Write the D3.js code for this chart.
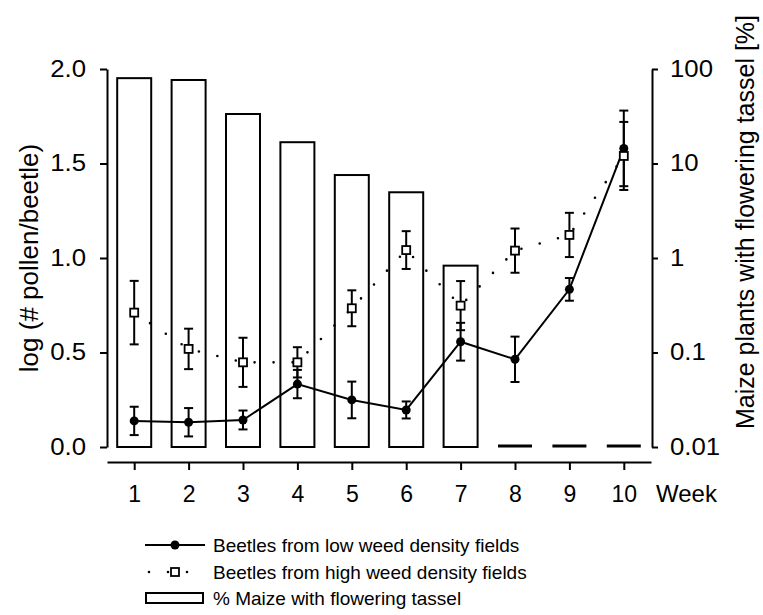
<!DOCTYPE html>
<html>
<head>
<meta charset="utf-8">
<script src="https://cdn.jsdelivr.net/npm/d3@7"></script>
<style>
  body { margin: 0; background: #fff; }
  svg text { font-family: "Liberation Sans", Arial, sans-serif; fill: #000; }
  .axis path, .axis line { stroke: #000; stroke-width: 2; }
</style>
</head>
<body>
<svg id="chart" width="763" height="615"></svg>
<script>
// values
const weeks = [1, 2, 3, 4, 5, 6, 7, 8, 9, 10];
const lowMean = [0.138, 0.131, 0.143, 0.333, 0.249, 0.196, 0.557, 0.464, 0.834, 1.58];
const lowErr = [0.075, 0.075, 0.05, 0.075, 0.097, 0.045, 0.1, 0.12, 0.06, 0.2];
const highMean = [0.711, 0.519, 0.448, 0.448, 0.734, 1.042, 0.748, 1.039, 1.122, 1.54];
const highErr = [0.168, 0.107, 0.13, 0.08, 0.095, 0.1, 0.13, 0.117, 0.117, 0.18];
const maizePct = [80, 76.5, 33.4, 16.8, 7.55, 4.96, 0.83, 0, 0, 0];
const leftTicks = [0, 0.5, 1, 1.5, 2];
const rightTicks = [0.01, 0.1, 1, 10, 100];
const legendLabels = [
  "Beetles from low weed density fields",
  "Beetles from high weed density fields",
  "% Maize with flowering tassel"
];

const svg = d3.select("#chart");

const x = d3.scaleLinear().domain([0.5, 10.5]).range([107, 651]);
const y = d3.scaleLinear().domain([0, 2]).range([447, 69]);
const yR = d3.scaleLog().domain([0.01, 100]).range([447, 69]);

const low = weeks.map((w, i) => ({ w, m: lowMean[i], e: lowErr[i] }));
const high = weeks.map((w, i) => ({ w, m: highMean[i], e: highErr[i] }));
const bars = weeks.map((w, i) => ({ w, v: maizePct[i] }));

const barW = 34;

// the y tick labels in the original are a little wide, stretch them
function stretch(sel, k) {
  sel.each(function () {
    const len = this.getComputedTextLength();
    d3.select(this).attr("textLength", len * k).attr("lengthAdjust", "spacingAndGlyphs");
  });
}

// bars (right axis)
svg.append("g").selectAll("rect")
  .data(bars.filter(d => d.v > 0))
  .join("rect")
  .attr("x", d => x(d.w) - barW / 2)
  .attr("y", d => yR(d.v))
  .attr("width", barW)
  .attr("height", d => yR(0.01) - yR(d.v))
  .attr("fill", "none")
  .attr("stroke", "#000")
  .attr("stroke-width", 2);

// zero weeks drawn as a dash on the baseline
svg.append("g").selectAll("line")
  .data(bars.filter(d => d.v === 0))
  .join("line")
  .attr("x1", d => x(d.w) - barW / 2)
  .attr("x2", d => x(d.w) + barW / 2)
  .attr("y1", yR(0.01) - 1)
  .attr("y2", yR(0.01) - 1)
  .attr("stroke", "#000")
  .attr("stroke-width", 3);

// axes
svg.append("g").attr("class", "axis")
  .attr("transform", "translate(107,0)")
  .call(d3.axisLeft(y).tickValues(leftTicks).tickFormat(d3.format(".1f"))
    .tickSize(7).tickSizeOuter(0).tickPadding(14))
  .call(g => g.selectAll("text").attr("font-size", 23).call(stretch, 1.12));

svg.append("g").attr("class", "axis")
  .attr("transform", "translate(652,0)")
  .call(d3.axisRight(yR).tickValues(rightTicks).tickFormat(d => String(d))
    .tickSize(6).tickSizeOuter(0).tickPadding(12))
  .call(g => g.selectAll("text").attr("font-size", 23).call(stretch, 1.12));

svg.append("g").attr("class", "axis")
  .attr("transform", "translate(0,462)")
  .call(d3.axisBottom(x).tickValues(weeks).tickFormat(d3.format("d"))
    .tickSize(8).tickSizeOuter(0).tickPadding(16))
  .call(g => g.selectAll("text").attr("font-size", 23));

svg.append("text")
  .attr("x", 656).attr("y", 502)
  .attr("font-size", 24)
  .text("Week");

svg.append("text")
  .attr("transform", "translate(38,258) rotate(-90)")
  .attr("text-anchor", "middle")
  .attr("font-size", 26)
  .text("log (# pollen/beetle)");

svg.append("text")
  .attr("transform", "translate(754,222) rotate(-90)")
  .attr("text-anchor", "middle")
  .attr("font-size", 25)
  .text("Maize plants with flowering tassel [%]");

// lines
const line = d3.line().x(d => x(d.w)).y(d => y(d.m));

svg.append("path")
  .datum(high)
  .attr("d", line)
  .attr("fill", "none")
  .attr("stroke", "#000")
  .attr("stroke-width", 2.6)
  .attr("stroke-linecap", "round")
  .attr("stroke-dasharray", "0 19");

svg.append("path")
  .datum(low)
  .attr("d", line)
  .attr("fill", "none")
  .attr("stroke", "#000")
  .attr("stroke-width", 2);

// error bars
function errorBars(data) {
  const g = svg.append("g").attr("stroke", "#000").attr("stroke-width", 2);
  g.selectAll(".stem").data(data).join("line")
    .attr("x1", d => x(d.w)).attr("x2", d => x(d.w))
    .attr("y1", d => y(d.m - d.e)).attr("y2", d => y(d.m + d.e));
  g.selectAll(".capT").data(data).join("line")
    .attr("x1", d => x(d.w) - 4.5).attr("x2", d => x(d.w) + 4.5)
    .attr("y1", d => y(d.m + d.e)).attr("y2", d => y(d.m + d.e));
  g.selectAll(".capB").data(data).join("line")
    .attr("x1", d => x(d.w) - 4.5).attr("x2", d => x(d.w) + 4.5)
    .attr("y1", d => y(d.m - d.e)).attr("y2", d => y(d.m - d.e));
}
errorBars(low);
errorBars(high);

svg.append("g").selectAll("circle")
  .data(low)
  .join("circle")
  .attr("cx", d => x(d.w))
  .attr("cy", d => y(d.m))
  .attr("r", 4.5)
  .attr("fill", "#000");

svg.append("g").selectAll("rect")
  .data(high)
  .join("rect")
  .attr("x", d => x(d.w) - 4)
  .attr("y", d => y(d.m) - 4)
  .attr("width", 8)
  .attr("height", 8)
  .attr("fill", "#fff")
  .attr("stroke", "#000")
  .attr("stroke-width", 1.8);

// legend
const lg = svg.append("g").attr("transform", "translate(145,0)");
const rowY = [545, 572, 598];

lg.append("line").attr("x1", 0).attr("x2", 60).attr("y1", rowY[0]).attr("y2", rowY[0])
  .attr("stroke", "#000").attr("stroke-width", 2);
lg.append("circle").attr("cx", 30).attr("cy", rowY[0]).attr("r", 4.5).attr("fill", "#000");

lg.append("line").attr("x1", 4).attr("x2", 57).attr("y1", rowY[1]).attr("y2", rowY[1])
  .attr("stroke", "#000").attr("stroke-width", 2.6).attr("stroke-linecap", "round")
  .attr("stroke-dasharray", "0 19");
lg.append("rect").attr("x", 26).attr("y", rowY[1] - 4).attr("width", 8).attr("height", 8)
  .attr("fill", "#fff").attr("stroke", "#000").attr("stroke-width", 1.8);

lg.append("rect").attr("x", 1).attr("y", rowY[2] - 5).attr("width", 57).attr("height", 10)
  .attr("fill", "none").attr("stroke", "#000").attr("stroke-width", 2);

lg.selectAll("text")
  .data(legendLabels)
  .join("text")
  .attr("x", 68)
  .attr("y", (d, i) => rowY[i])
  .attr("dy", "0.35em")
  .attr("font-size", 19)
  .text(d => d);
</script>
</body>
</html>
